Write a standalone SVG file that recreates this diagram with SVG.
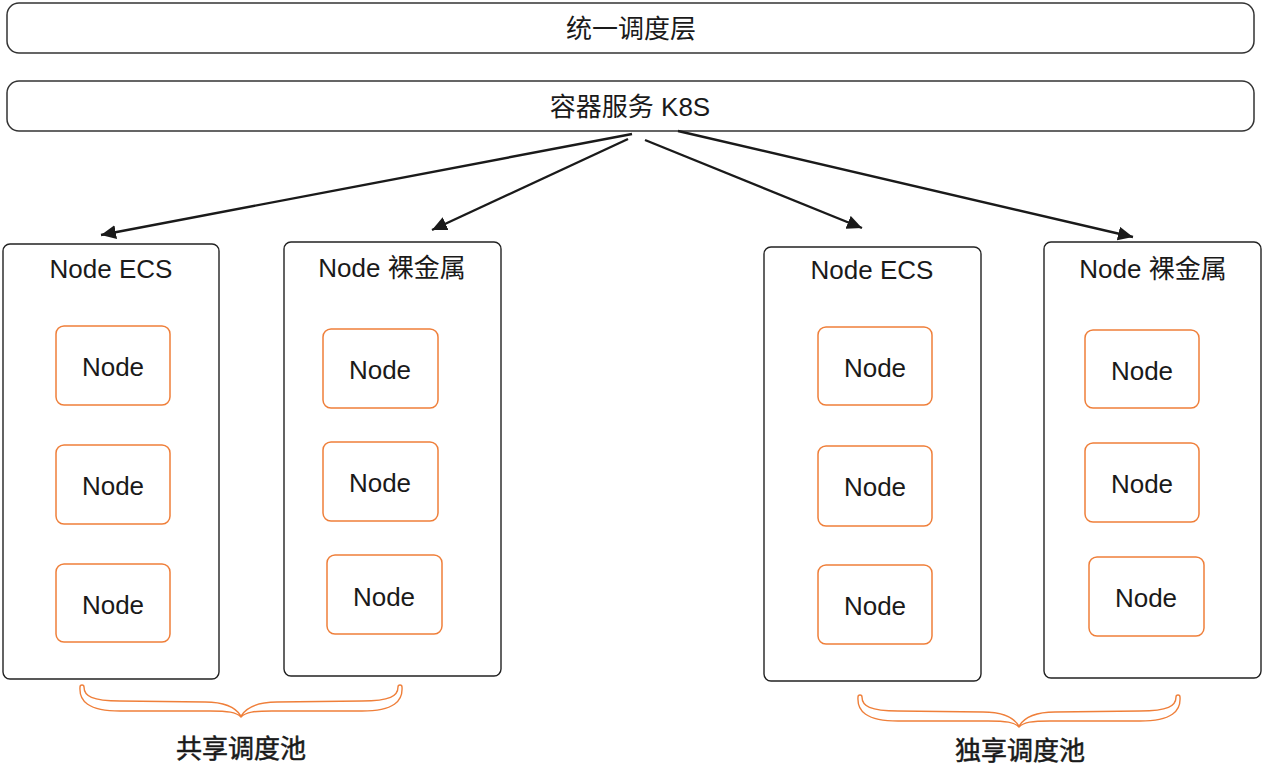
<svg xmlns="http://www.w3.org/2000/svg" width="1264" height="776" viewBox="0 0 1264 776">
<style>
text{font-family:"Liberation Sans","Noto Sans CJK SC",sans-serif;font-size:26px;fill:#1a1a1a;text-anchor:middle;dominant-baseline:central}
.lbl{stroke:#1a1a1a;stroke-width:0.5}
.bar{fill:#fff;stroke:#333;stroke-width:1.5}
.box{fill:#fff;stroke:#222;stroke-width:1.4}
.node{fill:#fff;stroke:#ef7f3a;stroke-width:1.5}
.conn{fill:none;stroke:#1a1a1a;stroke-width:2.4}
.brace{fill:#fff;stroke:#ef7f3a;stroke-width:1.4}
</style>
<defs>
<marker id="ah" markerUnits="userSpaceOnUse" markerWidth="16" markerHeight="14" refX="15" refY="7" orient="auto">
<path d="M0,0 L15,7 L0,14 Z" fill="#1a1a1a"/>
</marker>
<path id="bracePath" d="M80,687 C79,701 88,711 120,711 L210,711 C228,711 236,712 241,717 C246,712 254,711 272,711 L362,711 C394,711 403,701 402,687 A2,2 0 0 0 398,687 C398,696 390,701 362,701 L277,702 C256,702 246,708 241,716 C236,708 226,702 205,702 L120,701 C92,701 84,696 84,687 A2,2 0 0 0 80,687 Z"/>
</defs>
<rect width="1264" height="776" fill="#fff"/>

<g id="top-layer">
<rect class="bar" x="7" y="3" width="1247" height="50" rx="12"/>
<text x="631" y="29">统一调度层</text>
</g>
<g id="k8s">
<rect class="bar" x="7" y="81" width="1247" height="50" rx="12"/>
<text x="630" y="107">容器服务 K8S</text>
</g>

<g id="connectors">
<path class="conn" d="M632,134 L101,235" marker-end="url(#ah)"/>
<path class="conn" d="M628,139 L432,230" marker-end="url(#ah)"/>
<path class="conn" d="M645,140 L862,228" marker-end="url(#ah)"/>
<path class="conn" d="M678,131 L1133,237" marker-end="url(#ah)"/>
</g>

<g id="pool1-ecs">
<rect class="box" x="3" y="244" width="216" height="435" rx="7"/>
<text x="111" y="269">Node ECS</text>
<rect class="node" x="56" y="326" width="114" height="79" rx="8"/><text x="113" y="367">Node</text>
<rect class="node" x="56" y="445" width="114" height="79" rx="8"/><text x="113" y="486">Node</text>
<rect class="node" x="56" y="564" width="114" height="78" rx="8"/><text x="113" y="605">Node</text>
</g>
<g id="pool1-bm">
<rect class="box" x="284" y="242" width="217" height="434" rx="7"/>
<text x="392" y="268">Node 裸金属</text>
<rect class="node" x="323" y="329" width="115" height="79" rx="8"/><text x="380" y="370">Node</text>
<rect class="node" x="323" y="442" width="115" height="79" rx="8"/><text x="380" y="483">Node</text>
<rect class="node" x="327" y="555" width="115" height="79" rx="8"/><text x="384" y="597">Node</text>
</g>
<g id="pool2-ecs">
<rect class="box" x="764" y="247" width="217" height="434" rx="7"/>
<text x="872" y="270">Node ECS</text>
<rect class="node" x="818" y="327" width="114" height="78" rx="8"/><text x="875" y="368">Node</text>
<rect class="node" x="818" y="446" width="114" height="80" rx="8"/><text x="875" y="487">Node</text>
<rect class="node" x="818" y="565" width="114" height="79" rx="8"/><text x="875" y="606">Node</text>
</g>
<g id="pool2-bm">
<rect class="box" x="1044" y="242" width="217" height="436" rx="7"/>
<text x="1153" y="269">Node 裸金属</text>
<rect class="node" x="1085" y="330" width="114" height="78" rx="8"/><text x="1142" y="371">Node</text>
<rect class="node" x="1085" y="443" width="114" height="79" rx="8"/><text x="1142" y="484">Node</text>
<rect class="node" x="1089" y="557" width="115" height="79" rx="8"/><text x="1146" y="598">Node</text>
</g>

<g id="shared-pool">
<use href="#bracePath" class="brace"/>
<text class="lbl" x="241" y="749">共享调度池</text>
</g>
<g id="exclusive-pool">
<use href="#bracePath" class="brace" transform="translate(778,10)"/>
<text class="lbl" x="1020" y="751">独享调度池</text>
</g>
</svg>
